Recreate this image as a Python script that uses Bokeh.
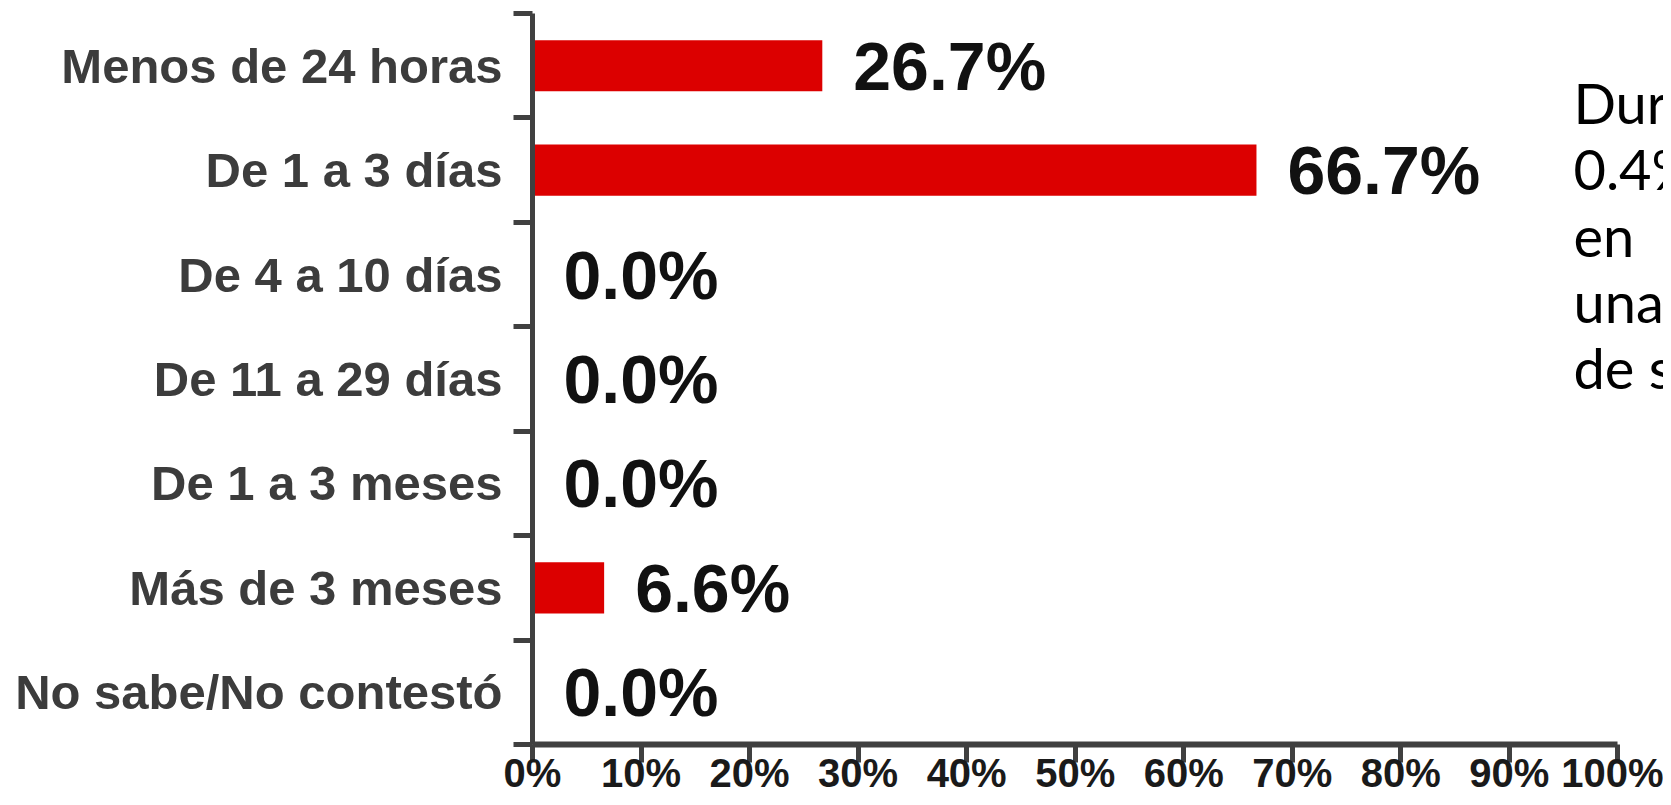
from bokeh.plotting import figure
from bokeh.models import ColumnDataSource, FixedTicker, Range1d, PrintfTickFormatter
from bokeh.core.properties import value
from bokeh.embed import file_html
from bokeh.resources import INLINE

# ---- data ----
categories = ["Menos de 24 horas", "De 1 a 3 días", "De 4 a 10 días", "De 11 a 29 días",
              "De 1 a 3 meses", "Más de 3 meses", "No sabe/No contestó"]
percentages = [26.7, 66.7, 0.0, 0.0, 0.0, 6.6, 0.0]
x_ticks = [0, 10, 20, 30, 40, 50, 60, 70, 80, 90, 100]
note_lines = ["Dura", "0.4%", "en", "una", "de s"]

n = len(categories)
y_centers = [n - i - 0.5 for i in range(n)]
value_labels = [f"{v:.1f}%" for v in percentages]

src = ColumnDataSource(dict(y=y_centers, v=percentages, lab=value_labels, cat=categories))

p = figure(width=1663, height=797, output_backend="svg", toolbar_location=None,
           x_range=Range1d(0, 104.2), y_range=Range1d(0, n),
           min_border_left=532, min_border_right=0, min_border_top=13, min_border_bottom=0)
p.outline_line_color = None
p.xgrid.visible = False
p.ygrid.visible = False
p.background_fill_color = "white"

p.hbar(y="y", right="v", left=0, height=0.49, source=src, fill_color="#dc0000", line_color=None)
p.text(x="v", y="y", text="lab", source=src, x_offset=31, text_baseline="middle", text_align="left",
       text_font=value("Liberation Sans"), text_font_style="bold", text_font_size="68px",
       text_color="#111111")

# right-hand note (text block cut by the picture's right edge)
note_src = ColumnDataSource(dict(x=[95.9] * len(note_lines),
                                 y=[6.145 - 0.634 * i for i in range(len(note_lines))],
                                 t=note_lines))
p.text(x="x", y="y", text="t", source=note_src, text_baseline="alphabetic", text_align="left",
       text_font=value("Lato"), text_font_size="56px", text_color="#000000")

axis_col = "#404040"

# y axis: labels at category centers, ticks at boundaries (minor ticks)
ya = p.yaxis[0]
ya.ticker = FixedTicker(ticks=y_centers, minor_ticks=list(range(n + 1)))
ya.major_label_overrides = {yc: c for yc, c in zip(y_centers, categories)}
ya.major_tick_out = 19
ya.major_tick_in = 0
ya.major_tick_line_color = None
ya.minor_tick_out = 19
ya.minor_tick_in = 0
ya.minor_tick_line_width = 5
ya.minor_tick_line_color = axis_col
ya.axis_line_width = 5
ya.axis_line_color = axis_col
ya.major_label_standoff = 11
ya.major_label_text_font = "Liberation Sans"
ya.major_label_text_font_style = "bold"
ya.major_label_text_font_size = "49px"
ya.major_label_text_color = "#3c3c3c"

xa = p.xaxis[0]
xa.ticker = FixedTicker(ticks=x_ticks)
xa.formatter = PrintfTickFormatter(format="%d%%")
xa.bounds = (0, 100)
xa.major_tick_out = 18
xa.major_tick_in = 0
xa.major_tick_line_width = 5
xa.major_tick_line_color = axis_col
xa.minor_tick_line_color = None
xa.axis_line_width = 6
xa.axis_line_color = axis_col
xa.major_label_standoff = -12
xa.major_label_text_font = "Liberation Sans"
xa.major_label_text_font_style = "bold"
xa.major_label_text_font_size = "40px"
xa.major_label_text_color = "#1a1a1a"

open("out.html", "w").write(file_html(p, INLINE))
